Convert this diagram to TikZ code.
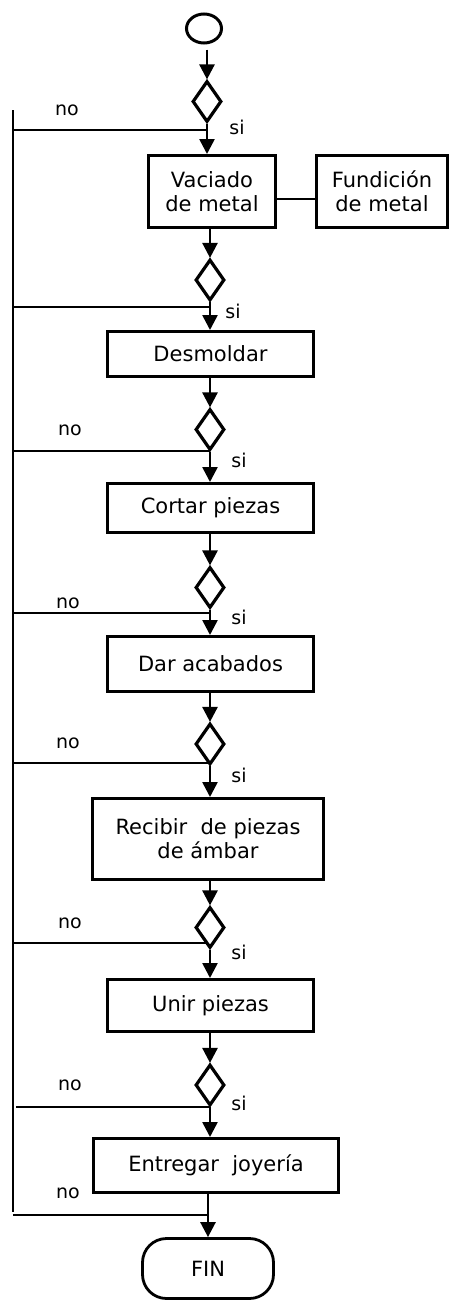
\documentclass[tikz,border=0pt]{standalone}
\usepackage{fontspec}
\setmainfont{DejaVu Sans}
\usetikzlibrary{shapes.geometric,arrows.meta}
\begin{document}
\begin{tikzpicture}[x=1pt,y=-1pt,
  box/.style={draw,line width=3.2pt,rectangle,inner sep=0pt,align=center,font=\fontsize{21}{24}\selectfont},
  dec/.style={draw,line width=3.2pt,diamond,inner sep=0pt,minimum width=29pt,minimum height=41pt},
  conn/.style={line width=2.4pt},
  arr/.style={line width=2.6pt,-{Triangle[length=15pt,width=15pt]}},
  lbl/.style={font=\fontsize{19}{20}\selectfont,inner sep=0pt}]
\useasboundingbox (0,0) rectangle (453,1302);
% start
\node[draw,line width=3pt,ellipse,minimum width=35pt,minimum height=29pt,inner sep=0pt] (start) at (204,28.5) {};
% decisions
\node[dec] (d1) at (207,101.5) {};
\node[dec] (d2) at (210,280) {};
\node[dec] (d3) at (210,429.5) {};
\node[dec] (d4) at (210,587.5) {};
\node[dec] (d5) at (210,744) {};
\node[dec] (d6) at (210,927.5) {};
\node[dec] (d7) at (210,1085) {};
% boxes
\node[box,minimum width=126.8pt,minimum height=71.8pt] (vac) at (212,191.5) {Vaciado\\de metal};
\node[box,minimum width=130.8pt,minimum height=71.8pt] (fun) at (382,191.5) {Fundición\\de metal};
\node[box,minimum width=205.8pt,minimum height=44.8pt] (des) at (210.5,354) {Desmoldar};
\node[box,minimum width=205.8pt,minimum height=48.8pt] (cor) at (210.5,508) {Cortar piezas};
\node[box,minimum width=205.8pt,minimum height=54.8pt] (dar) at (210.5,664) {Dar acabados};
\node[box,minimum width=230.8pt,minimum height=80.8pt] (rec) at (208,839) {Recibir~~de piezas\\de ámbar};
\node[box,minimum width=205.8pt,minimum height=51.8pt] (uni) at (210.5,1005.5) {Unir piezas};
\node[box,minimum width=244.8pt,minimum height=53.8pt] (ent) at (216,1165.5) {Entregar~~joyería};
\node[box,line width=2.8pt,rounded corners=24pt,minimum width=131pt,minimum height=60pt] (fin) at (208,1268.5) {FIN};
% left return line
\coordinate (Ltop) at (13,110);
\coordinate (Lbot) at (13,1212);
\draw[line width=2.8pt] (Ltop) -- (Lbot);
% junction points
\coordinate (j1) at (207,130);
\coordinate (j2) at (210,307);
\coordinate (j3) at (210,451);
\coordinate (j4) at (210,613);
\coordinate (j5) at (210,763);
\coordinate (j6) at (207,943);
\coordinate (j7) at (210,1107);
\coordinate (j8) at (208,1215);
\coordinate (cy) at (0,199);
% arrows main flow
\draw[arr,shorten <=5pt] (start.south -| d1.north) -- (d1.north);
\draw[arr] (d1.south) -- (d1.south |- vac.north);
\draw[arr] (vac.south -| d2.north) -- (d2.north);
\draw[arr] (d2.south) -- (d2.south |- des.north);
\draw[arr] (des.south -| d3.north) -- (d3.north);
\draw[arr] (d3.south) -- (d3.south |- cor.north);
\draw[arr] (cor.south -| d4.north) -- (d4.north);
\draw[arr] (d4.south) -- (d4.south |- dar.north);
\draw[arr] (dar.south -| d5.north) -- (d5.north);
\draw[arr] (d5.south) -- (d5.south |- rec.north);
\draw[arr] (rec.south -| d6.north) -- (d6.north);
\draw[arr] (d6.south) -- (d6.south |- uni.north);
\draw[arr] (uni.south -| d7.north) -- (d7.north);
\draw[arr] (d7.south) -- (d7.south |- ent.north);
\draw[arr] (ent.south -| j8) -- (j8 |- fin.north);
% side connection
\draw[conn] (vac.east |- cy) -- (fun.west |- cy);
% no lines
\draw[conn] (j1) -- (Ltop |- j1);
\draw[conn] (j2) -- (Ltop |- j2);
\draw[conn] (j3) -- (Ltop |- j3);
\draw[conn] (j4) -- (Ltop |- j4);
\draw[conn] (j5) -- (Ltop |- j5);
\draw[conn] (j6) -- (Ltop |- j6);
\draw[conn] (j7) -- ([xshift=3pt]Ltop |- j7);
\draw[conn] (j8) -- (Ltop |- j8);
% labels
\node[lbl] (no1) at (67,110) {no};
\node[lbl] (no3) at (70,430) {no};
\node[lbl] (no4) at (68,603) {no};
\node[lbl] (no5) at (68,743) {no};
\node[lbl] (no6) at (70,923) {no};
\node[lbl] (no7) at (70,1085) {no};
\node[lbl] (no8) at (68,1193) {no};
\node[lbl] (si1) at (237,127) {si};
\node[lbl] (si2) at (233,311) {si};
\node[lbl] (si3) at (239,460) {si};
\node[lbl] (si4) at (239,617) {si};
\node[lbl] (si5) at (239,775) {si};
\node[lbl] (si6) at (239,952) {si};
\node[lbl] (si7) at (239,1103) {si};
\end{tikzpicture}
\end{document}
